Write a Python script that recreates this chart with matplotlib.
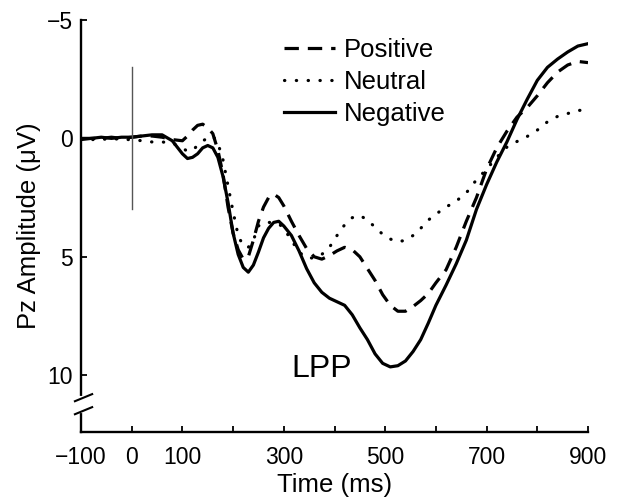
import matplotlib
matplotlib.use("Agg")
import matplotlib.pyplot as plt
from matplotlib.transforms import blended_transform_factory

plt.rcParams['font.family'] = ['Liberation Sans', 'DejaVu Sans']

# ERP at Pz (uV, positive down)
time_ms = [-100, -80, -60, -40, -20, 0, 20, 40, 60, 80, 100, 110, 120, 130, 140,
           150, 160, 170, 180, 190, 200, 210, 220, 230, 240, 250, 260, 270, 280,
           290, 300, 315, 330, 345, 360, 375, 390, 405, 420, 435, 450, 465, 480,
           495, 510, 525, 540, 555, 570, 585, 600, 620, 640, 660, 680, 700, 720,
           740, 760, 780, 800, 820, 840, 860, 880, 900]

positive = [0.05, 0.0, 0.0, -0.05, 0.0, -0.05, -0.1, -0.1, -0.05, 0.05, 0.1, -0.1,
            -0.35, -0.55, -0.6, -0.45, -0.2, 0.5, 1.5, 2.9, 4.0, 4.7, 5.1, 5.0,
            4.3, 3.5, 2.9, 2.5, 2.35, 2.5, 2.85, 3.5, 4.1, 4.65, 5.0, 5.1, 4.95,
            4.75, 4.6, 4.7, 5.0, 5.5, 6.0, 6.6, 7.05, 7.3, 7.3, 7.1, 6.85, 6.55,
            6.1, 5.55, 4.6, 3.5, 2.5, 1.3, 0.4, -0.3, -0.9, -1.3, -1.8, -2.35,
            -2.8, -3.1, -3.25, -3.2]

neutral = [0.0, 0.05, 0.05, 0.0, 0.05, 0.05, 0.1, 0.15, 0.15, 0.2, 0.4, 0.55, 0.5,
           0.3, 0.1, 0.0, -0.1, 0.2, 0.9, 2.0, 3.1, 4.1, 4.55, 4.6, 4.3, 3.7,
           3.55, 3.55, 3.55, 3.6, 3.8, 4.3, 4.8, 5.05, 5.05, 4.9, 4.6, 4.1, 3.65,
           3.35, 3.25, 3.45, 3.75, 4.05, 4.25, 4.37, 4.3, 4.1, 3.8, 3.45, 3.2,
           2.9, 2.65, 2.3, 1.75, 1.3, 0.8, 0.37, 0.13, -0.08, -0.35, -0.7, -0.93,
           -1.05, -1.18, -1.2]

negative = [0.0, 0.0, -0.05, 0.0, -0.05, -0.05, -0.1, -0.15, -0.15, 0.1, 0.65,
            0.85, 0.8, 0.65, 0.4, 0.3, 0.4, 0.8, 1.6, 2.7, 4.0, 4.9, 5.45, 5.65,
            5.35, 4.8, 4.2, 3.8, 3.55, 3.5, 3.7, 4.1, 4.75, 5.5, 6.1, 6.5, 6.75,
            6.9, 7.05, 7.45, 8.0, 8.5, 9.1, 9.5, 9.65, 9.6, 9.4, 9.0, 8.5, 7.8,
            7.05, 6.2, 5.3, 4.3, 3.0, 1.95, 1.0, 0.15, -0.8, -1.65, -2.45, -3.0,
            -3.35, -3.65, -3.9, -4.0]

xticks = list(range(-100, 901, 100))
xtick_labels = ["\u2212100", "0", "100", "", "300", "", "500", "", "700", "", "900"]
yticks = [-5, 0, 5, 10]
ytick_labels = ["\u22125", "0", "5", "10"]

fig = plt.figure(figsize=(6.18, 5.0), dpi=100)
ax = fig.add_axes([81/618, 1 - 432/500, 507/618, 412/500])

lw = 2.3
ax.plot(time_ms, positive, color="black", lw=lw, dashes=(4.5, 2.8), label="Positive")
ax.plot(time_ms, neutral, color="black", lw=lw, linestyle=(0, (0.1, 3.6)),
        dash_capstyle="round", label="Neutral")
ax.plot(time_ms, negative, color="black", lw=lw, label="Negative")

# stimulus onset marker
ax.plot([0, 0], [-3, 3], color="#555555", lw=1.0)

ax.set_xlim(-100, 900)
ax.set_ylim(12.4, -5)
ax.set_xticks(xticks)
ax.set_xticklabels(xtick_labels)
ax.set_yticks(yticks)
ax.set_yticklabels(ytick_labels)
ax.tick_params(direction="in", length=4, width=1.3, labelsize=16.5)
ax.tick_params(axis="x", pad=10)
ax.tick_params(axis="y", pad=6)
for s in ("top", "right"):
    ax.spines[s].set_visible(False)
for s in ("left", "bottom"):
    ax.spines[s].set_linewidth(1.7)

ax.set_xlabel("Time (ms)", fontsize=18.5, labelpad=3)
ax.set_ylabel("Pz Amplitude (\u03bcV)", fontsize=18.5, labelpad=4)

# axis break on the y axis
tr = blended_transform_factory(ax.transAxes, ax.transData)
ax.plot([0, 0], [10.95, 11.5], color="white", lw=3, transform=tr, clip_on=False, zorder=5)
for yb in (10.95, 11.5):
    ax.plot([-0.012, 0.022], [yb + 0.15, yb - 0.15], color="black", lw=1.5,
            transform=tr, clip_on=False, zorder=6)

ax.text(374, 9.75, "LPP", fontsize=23, ha="center", va="center")

ax.legend(loc="upper left", bbox_to_anchor=(0.38, 0.982), frameon=False,
          fontsize=18.5, handlelength=2.0, handletextpad=0.35, labelspacing=0.32,
          borderaxespad=0)

fig.savefig("out.png", dpi=100)
